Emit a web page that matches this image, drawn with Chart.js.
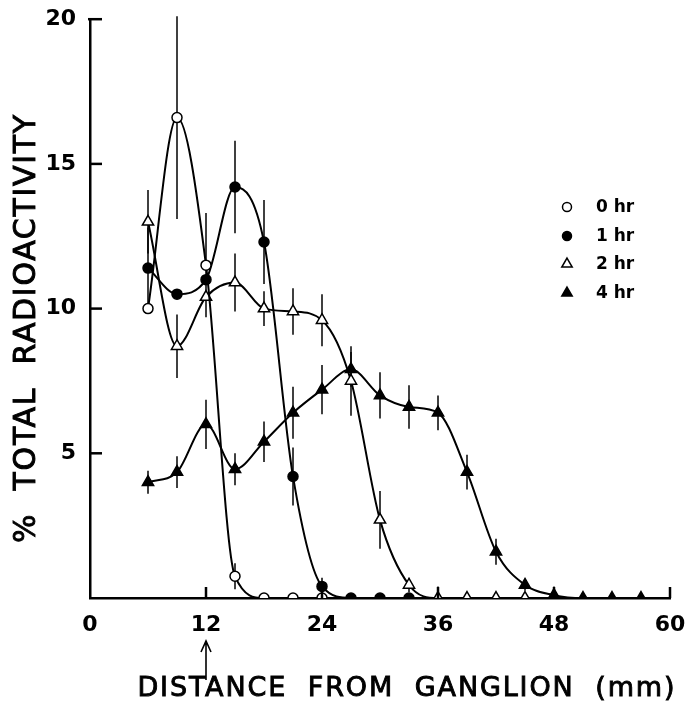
<!DOCTYPE html>
<html>
<head>
<meta charset="utf-8">
<script src="https://cdn.jsdelivr.net/npm/chart.js@4.4.0/dist/chart.umd.min.js"></script>
<style>
  html, body { margin: 0; padding: 0; background: #fff; }
  #wrap { width: 699px; height: 704px; }
</style>
</head>
<body>
<div id="wrap"><canvas id="myChart" width="699" height="704"></canvas></div>
<script>
// distance from ganglion (mm) and % total radioactivity
const dist0 = [6, 9, 12, 15, 18, 21, 24];
const val0  = [10.0, 16.6, 11.5, 0.75, 0, 0, 0];
const err0  = [0, 3.5, 1.8, 0.45, 0, 0, 0];

const dist1 = [6, 9, 12, 15, 18, 21, 24, 27, 30, 33];
const val1  = [11.4, 10.5, 11.0, 14.2, 12.3, 4.2, 0.4, 0, 0, 0];
const err1  = [1.4, 0, 0, 1.6, 1.45, 1.0, 0.3, 0, 0, 0];

const dist2 = [6, 9, 12, 15, 18, 21, 24, 27, 30, 33, 36, 39, 42, 45];
const val2  = [13.0, 8.7, 10.4, 10.9, 10.0, 9.9, 9.6, 7.5, 2.7, 0.45, 0, 0, 0, 0];
const err2  = [1.1, 1.1, 0, 1.0, 0.6, 0.8, 0.9, 1.2, 1.0, 0.25, 0.4, 0, 0, 0];

const dist4 = [6, 9, 12, 15, 18, 21, 24, 27, 30, 33, 36, 39, 42, 45, 48, 51, 54, 57];
const val4  = [4.0, 4.35, 6.0, 4.45, 5.4, 6.4, 7.2, 7.9, 7.0, 6.6, 6.4, 4.35, 1.6, 0.45, 0.1, 0, 0, 0];
const err4  = [0.4, 0.55, 0.85, 0.55, 0.7, 0.9, 0.85, 0.6, 0.8, 0.75, 0.6, 0.6, 0.45, 0.2, 0.3, 0, 0, 0];

const seriesLabels = ['0 hr', '1 hr', '2 hr', '4 hr'];
const xTicks = [0, 12, 24, 36, 48, 60];
const yTicks = [5, 10, 15, 20];

const FONT = '"DejaVu Sans", "Liberation Sans", sans-serif';

const toPoints = (xs, ys) => xs.map((x, i) => ({ x: x, y: ys[i] }));

const makeSet = (label, xs, ys, errs, style, filled, radius) => ({
  label: label,
  data: toPoints(xs, ys),
  errors: errs,
  borderColor: '#000',
  borderWidth: 2,
  backgroundColor: filled ? '#000' : '#fff',
  pointStyle: style,
  pointRadius: radius,
  pointBorderWidth: 1.5,
  pointBorderColor: '#000',
  pointBackgroundColor: filled ? '#000' : '#fff',
  cubicInterpolationMode: 'monotone',
  fill: false
});

// error bars, drawn under the markers
const errorBars = {
  id: 'errorBars',
  beforeDatasetsDraw(chart) {
    const { ctx, scales: { x, y } } = chart;
    ctx.save();
    ctx.strokeStyle = '#000';
    ctx.lineWidth = 1.5;
    chart.data.datasets.forEach(ds => {
      ds.data.forEach((p, i) => {
        const e = ds.errors[i];
        if (!e) return;
        const px = x.getPixelForValue(p.x);
        ctx.beginPath();
        ctx.moveTo(px, y.getPixelForValue(Math.min(p.y + e, 20.2)));
        ctx.lineTo(px, y.getPixelForValue(Math.max(p.y - e, 0)));
        ctx.stroke();
      });
    });
    ctx.restore();
  }
};

// inward tick marks, legend, titles and the arrow under 12 mm
const decorations = {
  id: 'decorations',
  afterDraw(chart) {
    const { ctx, chartArea, scales: { x, y } } = chart;
    ctx.save();
    ctx.strokeStyle = '#000';
    ctx.fillStyle = '#000';
    ctx.lineWidth = 2.5;
    yTicks.forEach(v => {
      const py = y.getPixelForValue(v);
      ctx.beginPath();
      ctx.moveTo(chartArea.left - (v === 20 ? 2 : 0), py);
      ctx.lineTo(chartArea.left + 12, py);
      ctx.stroke();
    });
    xTicks.slice(1).forEach(v => {
      const px = x.getPixelForValue(v);
      ctx.beginPath();
      ctx.moveTo(px, chartArea.bottom);
      ctx.lineTo(px, chartArea.bottom - 11);
      ctx.stroke();
    });

    // arrow below the 12 mm label
    const ax = x.getPixelForValue(12);
    ctx.lineWidth = 1.6;
    ctx.beginPath();
    ctx.moveTo(ax, 680);
    ctx.lineTo(ax, 641);
    ctx.moveTo(ax - 5, 652);
    ctx.lineTo(ax, 641);
    ctx.lineTo(ax + 5, 652);
    ctx.stroke();

    // legend
    const rows = [207, 236, 264, 293];
    ctx.font = 'bold 17px ' + FONT;
    ctx.textBaseline = 'middle';
    ctx.textAlign = 'left';
    chart.data.datasets.forEach((ds, i) => {
      ctx.fillStyle = ds.pointBackgroundColor;
      ctx.strokeStyle = '#000';
      ctx.lineWidth = 1.5;
      Chart.helpers.drawPoint(ctx, {
        pointStyle: ds.pointStyle,
        radius: ds.pointStyle === 'circle' ? 4.5 : 6,
        rotation: 0,
        borderWidth: 1.5
      }, 567, rows[i]);
      ctx.fillStyle = '#000';
      ctx.fillText(ds.label, 596, rows[i] + 1);
    });

    // axis titles, spread to the width they take in the figure
    const spaced = (text, font, width, cx, cy, rot) => {
      ctx.save();
      ctx.font = font;
      ctx.letterSpacing = '0px';
      const w = ctx.measureText(text).width;
      const ls = (width - w) / (text.length - 1);
      ctx.letterSpacing = ls + 'px';
      ctx.translate(cx, cy);
      ctx.rotate(rot);
      ctx.textAlign = 'left';
      ctx.textBaseline = 'middle';
      ctx.fillStyle = '#000';
      ctx.strokeStyle = '#000';
      ctx.lineWidth = 0.9;
      ctx.fillText(text, -width / 2, 0);
      ctx.strokeText(text, -width / 2, 0);
      ctx.restore();
    };
    spaced('DISTANCE  FROM  GANGLION  (mm)', '27px ' + FONT, 537, 406, 689, 0);
    spaced('%  TOTAL  RADIOACTIVITY', '30px ' + FONT, 428, 27, 329, -Math.PI / 2);
    ctx.restore();
  }
};

const ctx = document.getElementById('myChart').getContext('2d');
const myChart = new Chart(ctx, {
  type: 'line',
  data: {
    datasets: [
      makeSet(seriesLabels[0], dist0, val0, err0, 'circle', false, 5),
      makeSet(seriesLabels[1], dist1, val1, err1, 'circle', true, 5),
      makeSet(seriesLabels[2], dist2, val2, err2, 'triangle', false, 6.5),
      makeSet(seriesLabels[3], dist4, val4, err4, 'triangle', true, 6.5)
    ]
  },
  options: {
    responsive: false,
    animation: false,
    events: [],
    layout: { padding: { top: 18, right: 29, left: 0, bottom: 0 } },
    plugins: {
      legend: { display: false },
      tooltip: { enabled: false }
    },
    scales: {
      x: {
        type: 'linear',
        min: 0,
        max: 60,
        afterFit: s => { s.height = 106; },
        afterBuildTicks: s => { s.ticks = xTicks.map(v => ({ value: v })); },
        grid: { display: false },
        border: { display: true, color: '#000', width: 2.5 },
        ticks: {
          color: '#000',
          padding: 6,
          maxRotation: 0,
          font: { family: FONT, size: 22, weight: 'bold' }
        }
      },
      y: {
        min: 0,
        max: 20,
        afterFit: s => { s.width = 90; },
        afterBuildTicks: s => { s.ticks = yTicks.map(v => ({ value: v })); },
        grid: { display: false },
        border: { display: true, color: '#000', width: 2.5 },
        ticks: {
          color: '#000',
          padding: 6,
          font: { family: FONT, size: 22, weight: 'bold' }
        }
      }
    }
  },
  plugins: [errorBars, decorations]
});
</script>
</body>
</html>
